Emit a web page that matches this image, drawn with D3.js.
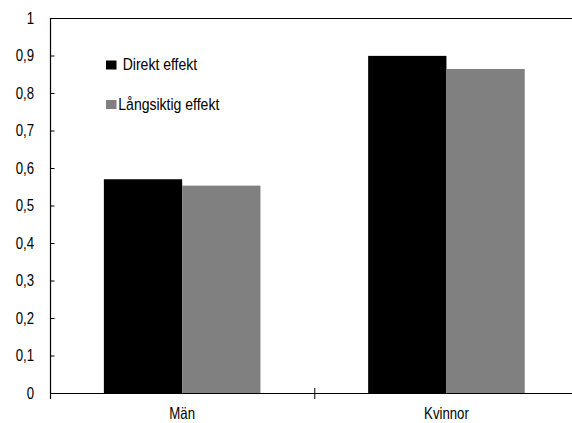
<!DOCTYPE html>
<html><head><meta charset="utf-8">
<script src="https://cdn.jsdelivr.net/npm/d3@7"></script>
<style>
html,body{margin:0;padding:0;background:#fff;overflow:hidden;}
svg{display:block;}
text{font-family:"Liberation Sans",Arial,sans-serif;fill:#000;}
</style></head>
<body>
<script>
const categories = ["Män", "Kvinnor"];
const seriesNames = ["Direkt effekt", "Långsiktig effekt"];
const direktEffekt = [0.570, 0.899];
const langsiktigEffekt = [0.553, 0.864];
const yTicks = [0, 0.1, 0.2, 0.3, 0.4, 0.5, 0.6, 0.7, 0.8, 0.9, 1];
const colors = ["#000000", "#808080"];

const W = 572, H = 423;
const svg = d3.select("body").append("svg").attr("width", W).attr("height", H);

const mLeft = 50, plotRight = 578.6, mTop = 18, mBottom = 393;
const x0 = d3.scaleBand().domain(categories).range([mLeft, plotRight]).paddingInner(0).paddingOuter(0);
const x1 = d3.scaleBand().domain(seriesNames).range([0, x0.bandwidth()]).paddingInner(0).paddingOuter(0.688);
const y = d3.scaleLinear().domain([0, 1]).range([mBottom, mTop]);

const data = categories.map((c, i) => ({cat: c, vals: [direktEffekt[i], langsiktigEffekt[i]]}));

// bars
const g = svg.append("g");
data.forEach(d => {
  d.vals.forEach((v, j) => {
    g.append("rect")
      .attr("x", x0(d.cat) + x1(seriesNames[j]))
      .attr("y", y(v))
      .attr("width", x1.bandwidth())
      .attr("height", mBottom - y(v))
      .attr("fill", colors[j]);
  });
});

// top border
svg.append("line").attr("x1", mLeft).attr("x2", W).attr("y1", mTop + 0.5).attr("y2", mTop + 0.5)
  .attr("stroke", "#000").attr("stroke-width", 1.2);

// y axis
const yAxis = d3.axisRight(y).tickValues(yTicks.filter(t => t < 1)).tickSize(4).tickFormat("");
const ya = svg.append("g").attr("transform", `translate(${mLeft + 0.5},0)`).call(yAxis);
ya.select(".domain").remove();
ya.selectAll("line").attr("stroke", "#000");
svg.append("line").attr("x1", mLeft + 0.5).attr("x2", mLeft + 0.5).attr("y1", mTop).attr("y2", mBottom + 6)
  .attr("stroke", "#000").attr("stroke-width", 1.2);

// y labels (condensed via horizontal scale)
svg.append("g").selectAll("text").data(yTicks).join("text")
  .attr("transform", d => `translate(34,${y(d)}) scale(0.8,1)`)
  .attr("dy", "0.36em")
  .attr("text-anchor", "end").attr("font-size", 16.5)
  .text(d => d3.format(".1~f")(d).replace(".", ","));

// x axis
svg.append("line").attr("x1", mLeft).attr("x2", W).attr("y1", mBottom + 0.5).attr("y2", mBottom + 0.5)
  .attr("stroke", "#000").attr("stroke-width", 1.2);
const boundaries = categories.slice(1).map(c => x0(c));
svg.append("g").selectAll("line").data(boundaries).join("line")
  .attr("x1", d => d + 0.5).attr("x2", d => d + 0.5).attr("y1", mBottom - 5).attr("y2", mBottom + 6)
  .attr("stroke", "#000").attr("stroke-width", 1);

svg.append("g").selectAll("text").data(categories).join("text")
  .attr("transform", d => `translate(${x0(d) + x0.bandwidth() / 2},419) scale(0.8,1)`)
  .attr("text-anchor", "middle").attr("font-size", 16.5)
  .text(d => d);

// legend
const legend = [
  {name: seriesNames[0], color: colors[0], sx: 106, sy: 60.5, tx: 122.7, ty: 69.5},
  {name: seriesNames[1], color: colors[1], sx: 106, sy: 100, tx: 118.3, ty: 109.5}
];
legend.forEach(l => {
  svg.append("rect").attr("x", l.sx).attr("y", l.sy).attr("width", 10.5).attr("height", 9).attr("fill", l.color);
  svg.append("text").attr("transform", `translate(${l.tx},${l.ty}) scale(0.85,1)`)
    .attr("font-size", 16.5).text(l.name);
});
</script>
</body></html>
